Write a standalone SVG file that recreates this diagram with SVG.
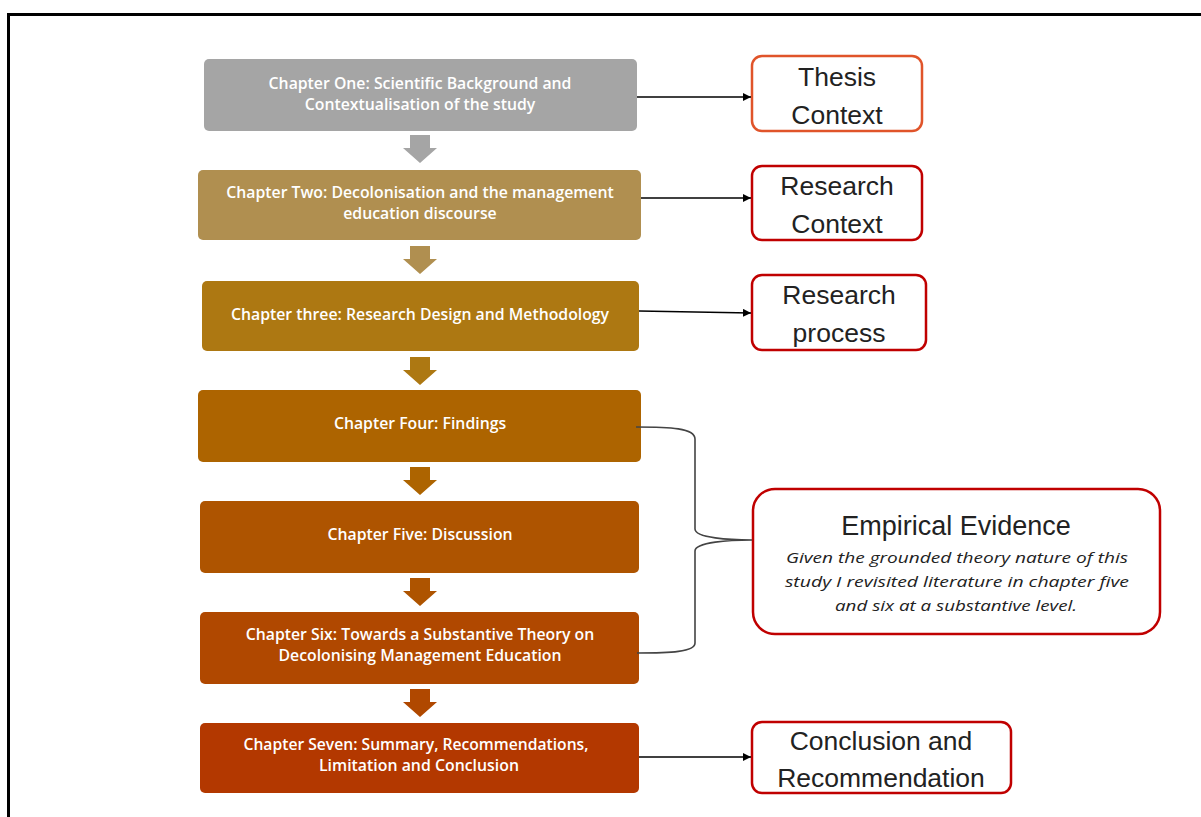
<svg xmlns="http://www.w3.org/2000/svg" width="1201" height="817" viewBox="0 0 1201 817">
  <defs>
    <style>
      .ch { font-family: "Open Sans", "Liberation Sans", sans-serif; font-size: 15.8px; font-weight: 600; fill: #ffffff; text-anchor: middle; }
      .lbl { font-family: "Liberation Sans", Arial, sans-serif; font-size: 26.5px; fill: #222222; text-anchor: middle; }
      .note { font-family: "Open Sans", "Liberation Sans", sans-serif; font-size: 15px; font-style: italic; fill: #222222; text-anchor: middle; }
      .box-out { fill: #ffffff; stroke: #c00000; stroke-width: 2.5; }
      .conn { fill: none; stroke: #000000; stroke-width: 1.3; }
      .brace { fill: none; stroke: #444444; stroke-width: 1.6; }
    </style>
    <marker id="ah" viewBox="0 0 10 10" refX="10" refY="5" markerWidth="8" markerHeight="8" markerUnits="userSpaceOnUse" orient="auto">
      <path d="M0,0 L10,5 L0,10 z" fill="#000000"/>
    </marker>
    <path id="blk" d="M-10,0 H10 V13 H17 L0,28 L-17,13 H-10 Z"/>
  </defs>

  <rect width="1201" height="817" fill="#ffffff"/>
  <!-- page frame -->
  <path d="M8.5,820 V14.5 H1205" fill="none" stroke="#000000" stroke-width="3"/>

  <!-- chapter column -->
  <g id="ch1">
    <rect x="204" y="59" width="433" height="72" rx="5" fill="#a5a5a5"/>
    <text class="ch" x="420" y="89">Chapter One: Scientific Background and</text>
    <text class="ch" x="420" y="110">Contextualisation of the study</text>
  </g>
  <g id="ch2">
    <rect x="198" y="170" width="443" height="70" rx="5" fill="#b08f50"/>
    <text class="ch" x="420" y="198">Chapter Two: Decolonisation and the management</text>
    <text class="ch" x="420" y="219">education discourse</text>
  </g>
  <g id="ch3">
    <rect x="202" y="281" width="437" height="70" rx="5" fill="#ad7812"/>
    <text class="ch" x="420" y="320">Chapter three: Research Design and Methodology</text>
  </g>
  <g id="ch4">
    <rect x="198" y="390" width="443" height="72" rx="5" fill="#ad6400"/>
    <text class="ch" x="420" y="429">Chapter Four: Findings</text>
  </g>
  <g id="ch5">
    <rect x="200" y="501" width="439" height="72" rx="5" fill="#ae5400"/>
    <text class="ch" x="420" y="540">Chapter Five: Discussion</text>
  </g>
  <g id="ch6">
    <rect x="200" y="612" width="439" height="72" rx="5" fill="#b04800"/>
    <text class="ch" x="420" y="640">Chapter Six: Towards a Substantive Theory on</text>
    <text class="ch" x="420" y="661">Decolonising Management Education</text>
  </g>
  <g id="ch7">
    <rect x="200" y="723" width="439" height="70" rx="5" fill="#b33800"/>
    <text class="ch" x="416" y="750" textLength="345" lengthAdjust="spacingAndGlyphs">Chapter Seven: Summary, Recommendations,</text>
    <text class="ch" x="419" y="771" textLength="200" lengthAdjust="spacingAndGlyphs">Limitation and Conclusion</text>
  </g>

  <!-- outcome boxes -->
  <g id="thesis-context">
    <rect x="752" y="56" width="170" height="75" rx="10" fill="#ffffff" stroke="#e0542a" stroke-width="2.5"/>
    <text class="lbl" x="837" y="86">Thesis</text>
    <text class="lbl" x="837" y="124">Context</text>
  </g>
  <g id="research-context">
    <rect class="box-out" x="752" y="166" width="170" height="74" rx="10"/>
    <text class="lbl" x="837" y="195">Research</text>
    <text class="lbl" x="837" y="233">Context</text>
  </g>
  <g id="research-process">
    <rect class="box-out" x="752" y="275" width="174" height="75" rx="10"/>
    <text class="lbl" x="839" y="304">Research</text>
    <text class="lbl" x="839" y="342">process</text>
  </g>
  <g id="empirical-evidence">
    <rect class="box-out" x="753" y="489" width="407" height="145" rx="22"/>
    <text class="lbl" x="956" y="535" style="font-size:27px">Empirical Evidence</text>
    <text class="note" x="957" y="563" textLength="342" lengthAdjust="spacingAndGlyphs">Given the grounded theory nature of this</text>
    <text class="note" x="957" y="587" textLength="344" lengthAdjust="spacingAndGlyphs">study I revisited literature in  chapter five</text>
    <text class="note" x="956" y="611" textLength="242" lengthAdjust="spacingAndGlyphs">and six at a substantive level.</text>
  </g>
  <g id="conclusion">
    <rect class="box-out" x="752" y="722" width="259" height="71" rx="10"/>
    <text class="lbl" x="881" y="750">Conclusion and</text>
    <text class="lbl" x="881" y="787">Recommendation</text>
  </g>

  <!-- connectors -->
  <g id="connectors">
    <use href="#blk" x="420" y="135" fill="#a5a5a5"/>
    <use href="#blk" x="420" y="246" fill="#b08f50"/>
    <use href="#blk" x="420" y="357" fill="#ad7812"/>
    <use href="#blk" x="420" y="467" fill="#ad6400"/>
    <use href="#blk" x="420" y="578" fill="#ae5400"/>
    <use href="#blk" x="420" y="689" fill="#b04800"/>

    <path class="conn" d="M637,97 H751" marker-end="url(#ah)"/>
    <path class="conn" d="M641,198 H751" marker-end="url(#ah)"/>
    <path class="conn" d="M639,311 L751,313" marker-end="url(#ah)"/>
    <path class="conn" d="M639,757 H751" marker-end="url(#ah)"/>

    <path class="brace" d="M636,427 C670,427 695,428 695,439 V529 C695,538 730,540 752,540 C730,540 695,542 695,551 V643 C695,652 670,653 637,653"/>
  </g>
</svg>
